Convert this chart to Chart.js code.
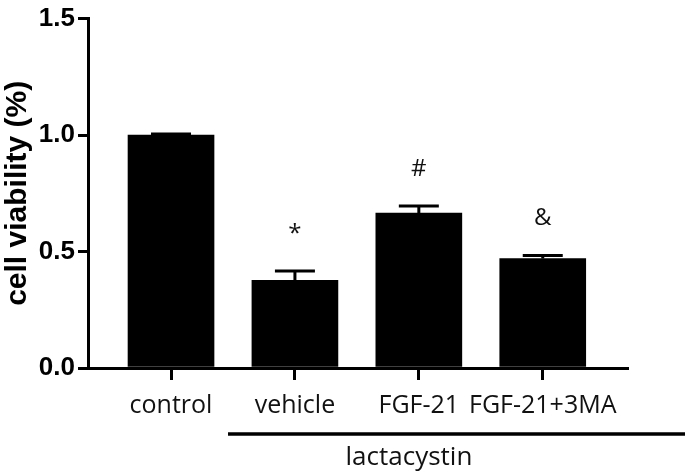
<!DOCTYPE html>
<html>
<head>
<meta charset="utf-8">
<script src="https://cdn.jsdelivr.net/npm/chart.js@4.4.0/dist/chart.umd.min.js"></script>
<style>
html, body { margin: 0; padding: 0; background: #fff; }
</style>
</head>
<body>
<canvas id="chart" width="685" height="475"></canvas>
<script>
// data
const categories = ["control", "vehicle", "FGF-21", "FGF-21+3MA"];
const viability = [1.0, 0.376, 0.665, 0.47];
const sem = [0.005, 0.04, 0.03, 0.013];
const marks = ["", "*", "#", "&"];
const yTicks = [0, 0.5, 1.0, 1.5];
const groupLabel = "lactacystin";
const groupSpan = [0.46, 4.2];
const groupCenter = 1.92;

const labelFont = "'Open Sans', sans-serif";
const boldFont = "'Liberation Sans', Arial, sans-serif";

// error bars, significance marks and the lactacystin bracket
const extras = {
    id: "extras",
    afterDraw(chart) {
        const ctx = chart.ctx;
        const x = chart.scales.x;
        const y = chart.scales.y;
        const meta = chart.getDatasetMeta(0);
        ctx.save();
        ctx.strokeStyle = "#000";
        ctx.fillStyle = "#111";
        ctx.lineWidth = 3;
        ctx.textAlign = "center";
        ctx.textBaseline = "middle";
        ctx.font = "24px " + labelFont;
        meta.data.forEach((bar, i) => {
            const top = y.getPixelForValue(viability[i] + sem[i]);
            ctx.beginPath();
            ctx.moveTo(bar.x, bar.y);
            ctx.lineTo(bar.x, top);
            ctx.moveTo(bar.x - 20, top);
            ctx.lineTo(bar.x + 20, top);
            ctx.stroke();
            if (marks[i]) ctx.fillText(marks[i], bar.x, top - 37);
        });

        const lineY = 434;
        ctx.lineWidth = 3.5;
        ctx.beginPath();
        ctx.moveTo(x.getPixelForValue(groupSpan[0]), lineY);
        ctx.lineTo(x.getPixelForValue(groupSpan[1]), lineY);
        ctx.stroke();
        ctx.font = "26px " + labelFont;
        ctx.fillText(groupLabel, x.getPixelForValue(groupCenter), lineY + 24);
        ctx.restore();
    }
};

const ctx = document.getElementById("chart").getContext("2d");

new Chart(ctx, {
    type: "bar",
    data: {
        datasets: [{
            data: categories.map((c, i) => ({ x: i, y: viability[i] })),
            backgroundColor: "#000",
            borderWidth: 0,
            barThickness: 86
        }]
    },
    options: {
        responsive: false,
        animation: false,
        devicePixelRatio: 1,
        layout: { padding: { top: 14, right: 58, left: 0, bottom: 0 } },
        plugins: {
            legend: { display: false },
            tooltip: { enabled: false }
        },
        scales: {
            x: {
                type: "linear",
                offset: false,
                min: -0.67,
                max: 3.68,
                afterBuildTicks: s => { s.ticks = categories.map((c, i) => ({ value: i })); },
                afterFit: s => { s.height = 107; },
                ticks: {
                    callback: v => categories[v],
                    font: { family: labelFont, size: 25 },
                    color: "#111",
                    padding: 11,
                    maxRotation: 0,
                    autoSkip: false
                },
                grid: { display: true, offset: false, drawOnChartArea: false, drawTicks: true, tickLength: 12, lineWidth: 3, color: "#000" },
                border: { display: true, width: 3, color: "#000" }
            },
            y: {
                min: 0,
                max: 1.5,
                afterBuildTicks: s => { s.ticks = yTicks.map(v => ({ value: v })); },
                afterFit: s => { s.width = 88; },
                ticks: {
                    callback: v => v.toFixed(1),
                    font: { family: boldFont, size: 26, weight: "bold" },
                    color: "#000",
                    padding: 3
                },
                grid: { display: true, drawOnChartArea: false, drawTicks: true, tickLength: 10, lineWidth: 3, color: "#000" },
                border: { display: true, width: 3, color: "#000" },
                title: {
                    display: true,
                    text: "cell viability (%)",
                    font: { family: boldFont, size: 30, weight: "bold" },
                    color: "#000",
                    padding: { top: 0, bottom: 0 }
                }
            }
        }
    },
    plugins: [extras]
});
</script>
</body>
</html>
